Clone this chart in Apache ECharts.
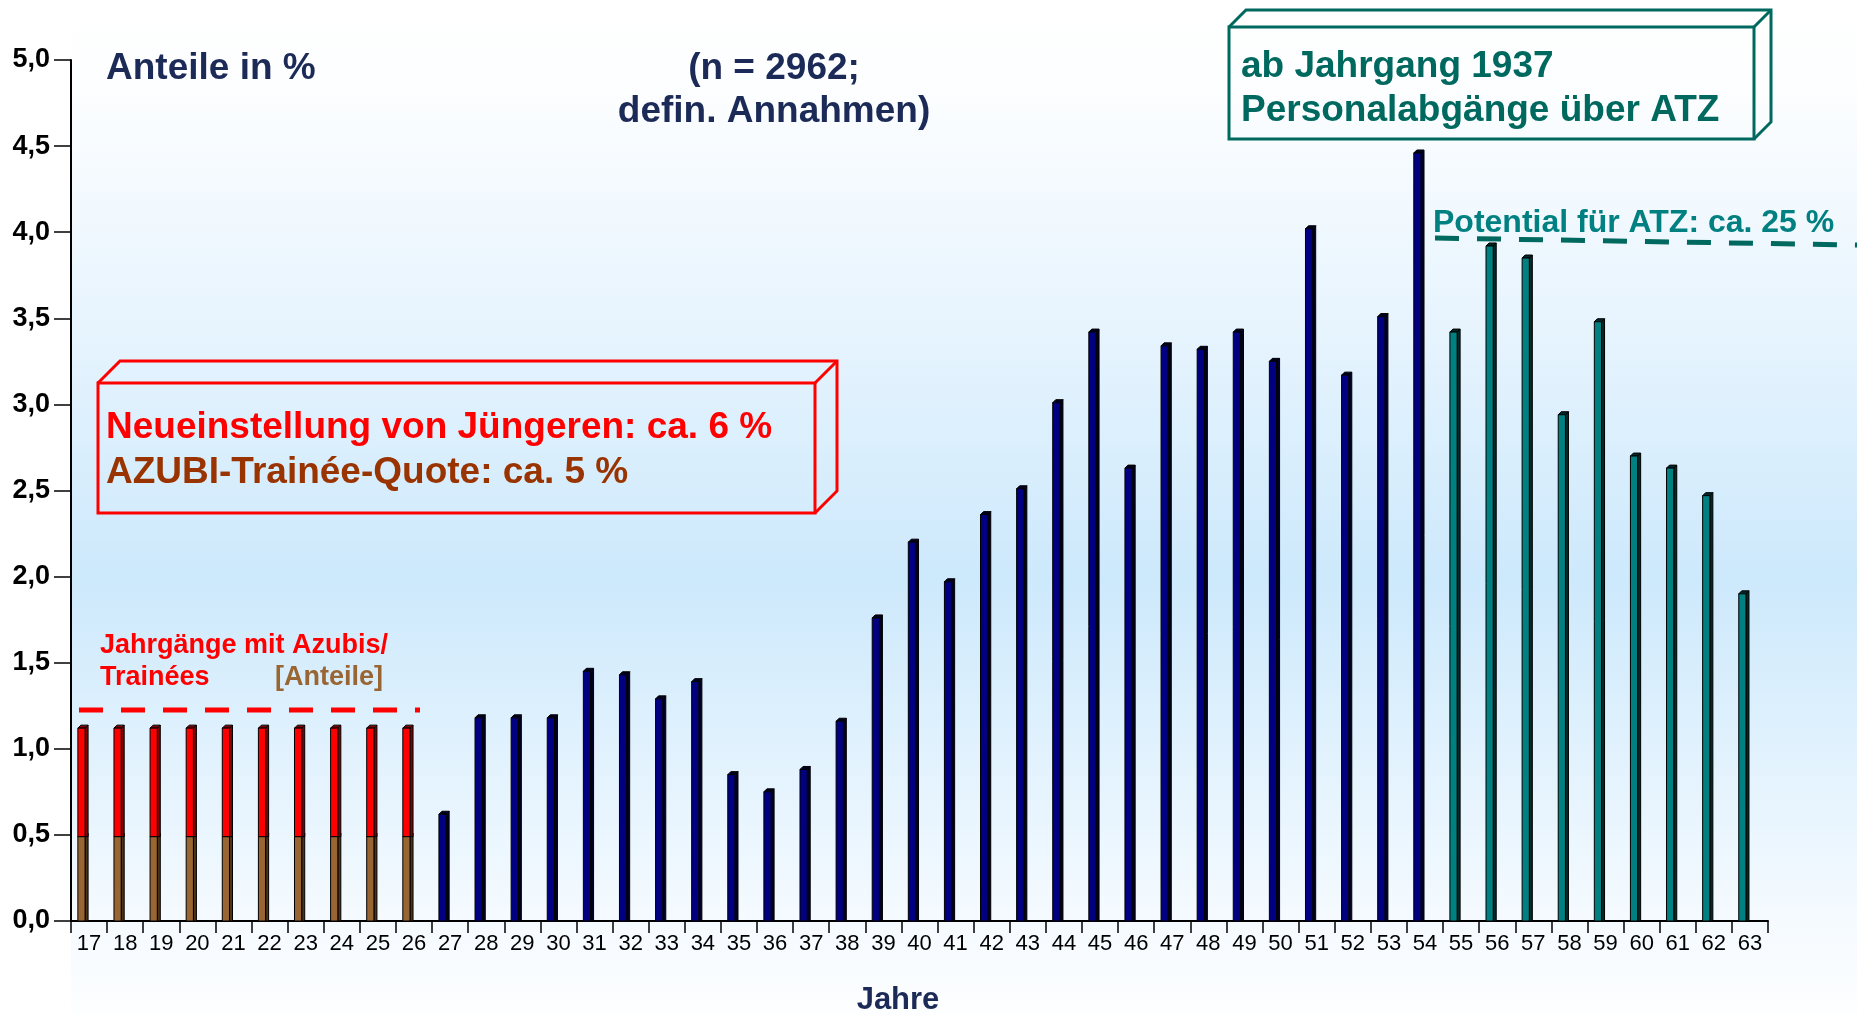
<!DOCTYPE html>
<html>
<head>
<meta charset="utf-8">
<script src="https://cdn.jsdelivr.net/npm/echarts@6/dist/echarts.min.js"></script>
<style>
  html, body { margin: 0; padding: 0; background: #fff; }
  #chart { width: 1857px; height: 1015px; }
</style>
</head>
<body>
<div id="chart"></div>
<script>
// Jahrgaenge 1917 .. 1963
var jahre = ['17', '18', '19', '20', '21', '22', '23', '24', '25', '26',
  '27', '28', '29', '30', '31', '32', '33', '34', '35', '36', '37', '38', '39', '40',
  '41', '42', '43', '44', '45', '46', '47', '48', '49', '50', '51', '52', '53', '54',
  '55', '56', '57', '58', '59', '60', '61', '62', '63'];

// Jahrgaenge mit Azubis/Trainees (17-26)
var azubiAnteil = [0.49, 0.49, 0.49, 0.49, 0.49, 0.49, 0.49, 0.49, 0.49, 0.49];
var juengereGesamt = [1.12, 1.12, 1.12, 1.12, 1.12, 1.12, 1.12, 1.12, 1.12, 1.12];
// 27-54
var mittlereJahrgaenge = [0.62, 1.18, 1.18, 1.18, 1.45, 1.43, 1.29, 1.39, 0.85, 0.75,
  0.88, 1.16, 1.76, 2.20, 1.97, 2.36, 2.51, 3.01, 3.42, 2.63,
  3.34, 3.32, 3.42, 3.25, 4.02, 3.17, 3.51, 4.46];
// 55-63 (ATZ)
var atzJahrgaenge = [3.42, 3.92, 3.85, 2.94, 3.48, 2.70, 2.63, 2.47, 1.90];

var FONT = '"Liberation Sans", Arial, sans-serif';

function segs(offset, from, to) {
  var out = [];
  for (var i = 0; i < to.length; i++) {
    out.push([offset + i, from ? from[i] : 0, to[i]]);
  }
  return out;
}

function bar3d(color, side) {
  return function (params, api) {
    var cat = api.value(0);
    var lo = api.coord([cat, api.value(1)]);
    var hi = api.coord([cat, api.value(2)]);
    var bw = api.size([1, 0])[0];
    var w = bw * 0.2, d = 3;
    var x0 = lo[0] - bw * 0.31;
    var yb = lo[1], yt = hi[1];
    var x1 = x0 + w;
    return {
      type: 'group',
      children: [
        { type: 'polygon', shape: { points: [[x1, yb], [x1, yt], [x1 + d, yt - d], [x1 + d, yb]] },
          style: { fill: side, stroke: '#000', lineWidth: 1 } },
        { type: 'polygon', shape: { points: [[x0, yt], [x0 + d, yt - d], [x1 + d, yt - d], [x1, yt]] },
          style: { fill: side, stroke: '#000', lineWidth: 1 } },
        { type: 'rect', shape: { x: x0, y: yt, width: w, height: yb - yt },
          style: { fill: color, stroke: '#000', lineWidth: 1 } }
      ]
    };
  };
}

function series(name, data, color, side) {
  return {
    name: name,
    type: 'custom',
    renderItem: bar3d(color, side),
    encode: { x: 0, y: [1, 2] },
    data: data,
    z: 3
  };
}

function box3d(x, y, w, h, d, color) {
  return [
    { type: 'rect', shape: { x: x, y: y, width: w, height: h },
      style: { fill: 'none', stroke: color, lineWidth: 3 }, z: 50 },
    { type: 'polyline', shape: { points: [[x, y], [x + d, y - d], [x + w + d, y - d], [x + w + d, y + h - d], [x + w, y + h]] },
      style: { fill: 'none', stroke: color, lineWidth: 3 }, z: 50 },
    { type: 'line', shape: { x1: x + w, y1: y, x2: x + w + d, y2: y - d },
      style: { stroke: color, lineWidth: 3 }, z: 50 }
  ];
}

function txt(x, y, s, size, color, align) {
  return { type: 'text', z: 60, style: { x: x, y: y, text: s, fill: color,
    font: 'bold ' + size + 'px ' + FONT, align: align || 'left', verticalAlign: 'middle' } };
}

var chart = echarts.init(document.getElementById('chart'));

var graphics = [
  { type: 'rect', z: -10, silent: true, shape: { x: 71, y: 0, width: 1786, height: 1015 },
    style: { fill: new echarts.graphic.LinearGradient(0, 0, 0, 1, [
      { offset: 0, color: '#ffffff' },
      { offset: 0.08, color: '#fdfeff' },
      { offset: 0.3, color: '#e9f5fe' },
      { offset: 0.57, color: '#cde9fc' },
      { offset: 0.9, color: '#f4faff' },
      { offset: 1, color: '#fdfeff' }
    ]) } },
  txt(106, 69, 'Anteile in %', 37, '#1c2a57'),
  txt(774, 69, '(n = 2962;', 37, '#1c2a57', 'center'),
  txt(774, 112, 'defin. Annahmen)', 37, '#1c2a57', 'center'),
  txt(1241, 67, 'ab Jahrgang 1937', 37, '#00695f'),
  txt(1241, 111, 'Personalabgänge über ATZ', 37, '#00695f'),
  txt(106, 428, 'Neueinstellung von Jüngeren: ca. 6 %', 37, '#ff0000'),
  txt(106, 473, 'AZUBI-Trainée-Quote: ca. 5 %', 37, '#993300'),
  txt(100, 646, 'Jahrgänge mit Azubis/', 27, '#ff0000'),
  txt(100, 678, 'Trainées', 27, '#ff0000'),
  txt(383, 678, '[Anteile]', 27, '#996633', 'right'),
  txt(1433, 223, 'Potential für ATZ: ca. 25 %', 32, '#008080'),
  txt(898, 1000, 'Jahre', 31, '#1c2a57', 'center'),
  { type: 'line', z: 55, shape: { x1: 79, y1: 710, x2: 420, y2: 710 },
    style: { stroke: '#ff0000', lineWidth: 5, lineDash: [24, 18] } },
  { type: 'line', z: 55, shape: { x1: 1435, y1: 238, x2: 1857, y2: 245 },
    style: { stroke: '#00695f', lineWidth: 5, lineDash: [24, 18] } }
].concat(box3d(98, 383, 717, 130, 22, '#ff0000'))
 .concat(box3d(1229, 27, 525, 112, 17, '#00695f'));

var option = {
  backgroundColor: '#ffffff',
  animation: false,
  grid: { left: 71, right: 89, top: 60, bottom: 94 },
  xAxis: {
    type: 'category',
    data: jahre,
    boundaryGap: true,
    axisLine: { lineStyle: { color: '#000', width: 2 } },
    axisTick: { show: true, length: 12, lineStyle: { color: '#000', width: 1.5 } },
    axisLabel: { color: '#000', fontSize: 22, fontFamily: FONT, margin: 12, interval: 0 }
  },
  yAxis: {
    type: 'value',
    min: 0,
    max: 5,
    interval: 0.5,
    splitLine: { show: false },
    axisLine: { show: true, lineStyle: { color: '#000', width: 2 } },
    axisTick: { show: true, length: 17, lineStyle: { color: '#000', width: 1.5 } },
    axisLabel: {
      color: '#000', fontSize: 27, fontWeight: 'bold', fontFamily: FONT, margin: 21,
      formatter: function (v) { return v.toFixed(1).replace('.', ','); }
    }
  },
  series: [
    series('Azubis', segs(0, null, azubiAnteil), '#996633', '#4d3319'),
    series('Jüngere', segs(0, azubiAnteil, juengereGesamt), '#ff0000', '#800000'),
    series('Jahrgänge 27-54', segs(10, null, mittlereJahrgaenge), '#000080', '#000020'),
    series('ATZ', segs(38, null, atzJahrgaenge), '#008080', '#002a2a')
  ],
  graphic: graphics
};

chart.setOption(option);
</script>
</body>
</html>
